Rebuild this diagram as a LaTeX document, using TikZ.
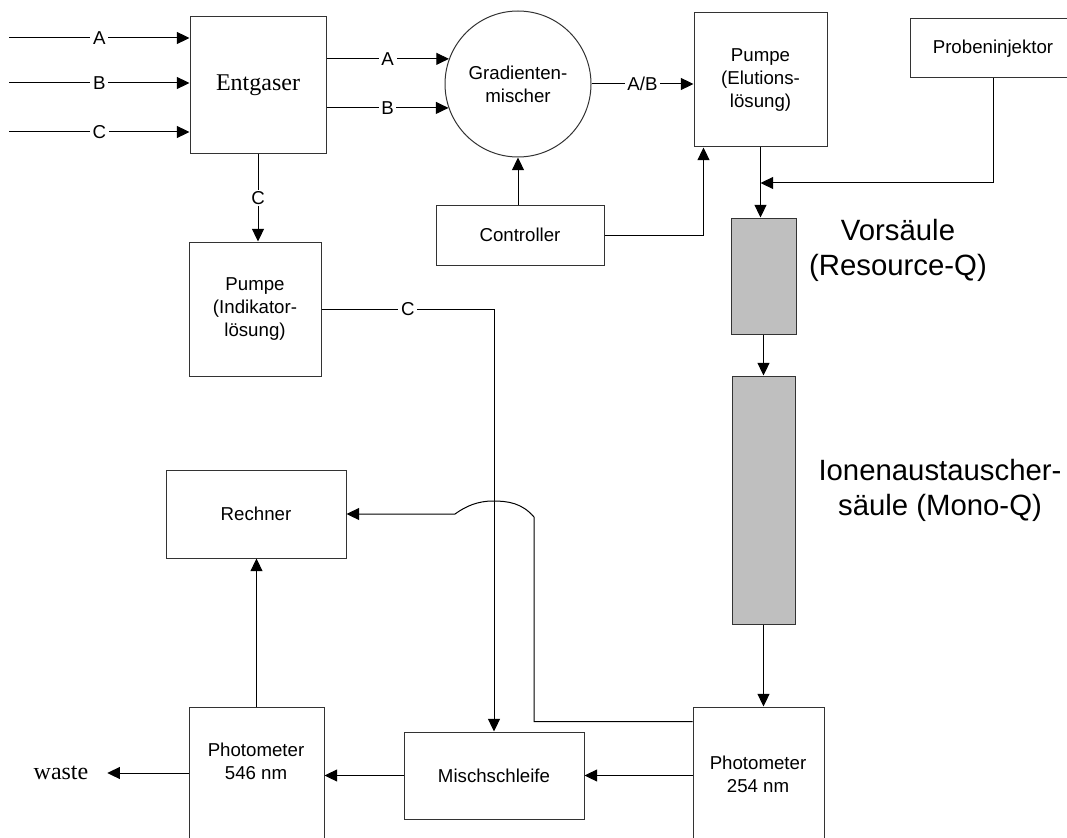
\documentclass[tikz,border=0pt]{standalone}
\usepackage{fontspec}
\setmainfont{Liberation Serif}
\setsansfont{Liberation Sans}
\usetikzlibrary{arrows.meta}

\begin{document}
\begin{tikzpicture}[x=0.75pt, y=-0.75pt,
  box/.style={draw=black!80, line width=0.75pt, align=center, inner sep=0pt, font=\sffamily\fontsize{14}{17.5}\selectfont},
  column/.style={box, fill=black!25},
  lab/.style={fill=white, inner xsep=2pt, inner ysep=1pt, font=\sffamily\fontsize{14}{17}\selectfont},
  flow/.style={draw=black, line width=0.75pt, -{Triangle[length=9.5pt,width=9pt]}},
  big/.style={align=center, font=\sffamily\fontsize{22}{26.5}\selectfont}]
\useasboundingbox (0,0) rectangle (1067,838);
\clip (0,0) rectangle (1067,838);

% Geraete
\node[box, minimum width=102pt, minimum height=102.75pt, font=\rmfamily\fontsize{18}{22}\selectfont] (entgaser) at (258,85.5) {Entgaser};
\node[box, circle, minimum size=109.5pt] (mischer) at (518,84) {Gradienten-\\mischer};
\node[box, minimum width=99.75pt, minimum height=100.5pt] (pumpeE) at (760.5,80) {Pumpe\\(Elutions-\\lösung)};
\node[box, minimum width=124.5pt, minimum height=44.25pt] (injektor) at (993,48.5) {Probeninjektor};
\node[box, minimum width=126pt, minimum height=45pt] (controller) at (520,235) {Controller};
\node[box, minimum width=99pt, minimum height=100.5pt] (pumpeI) at (255,309) {Pumpe\\(Indikator-\\lösung)};
\node[column, minimum width=48.75pt, minimum height=87pt] (vorsaeule) at (763.5,276) {};
\node[column, minimum width=47.25pt, minimum height=186pt] (ionen) at (763.5,500) {};
\node[big] (vorsaeuleText) at (898,250.5) {Vorsäule\\(Resource-Q)};
\node[big] (ionenText) at (940,490.5) {Ionenaustauscher-\\säule (Mono-Q)};
\node[box, minimum width=135pt, minimum height=66pt] (rechner) at (256,514) {Rechner};
\node[box, minimum width=135pt, minimum height=65.25pt] (mischschleife) at (494,775.5) {Mischschleife};
\node[box, minimum width=101.25pt, minimum height=122.25pt] (phot546) at (256.5,788.5) {};
\node[box, minimum width=98.25pt, minimum height=122.25pt] (phot254) at (758.5,788.5) {};
\node[box, draw=none] (phot546Text) at (256,761.5) {Photometer\\546 nm};
\node[box, draw=none] (phot254Text) at (758,774.5) {Photometer\\254 nm};
\node[font=\rmfamily\fontsize{18}{22}\selectfont, inner xsep=14pt] (waste) at (61,773) {waste};

% Leitungen
\foreach \n/\y in {A/38,B/83,C/132} {
\coordinate (in\n) at (9,\y);
\draw[flow] (in\n) -- node[lab] {\n} (in\n -| entgaser.west);}
\draw[flow] (mischer.160.8 -| entgaser.east) -- node[lab] {A} (mischer.160.8);
\draw[flow] (mischer.199.2 -| entgaser.east) -- node[lab] {B} (mischer.199.2);
\draw[flow] (mischer.east) -- node[lab] {A/B} (mischer.east -| pumpeE.west);
\draw[flow] (mischer.south |- controller.north) -- (mischer.south);
\draw[flow] (controller.east) -| ([xshift=7.5pt]pumpeE.south west);
\draw[flow] (entgaser.south) -- node[lab] {C} (entgaser.south |- pumpeI.north);
\draw[flow] (pumpeI.east) -- node[lab] {C} (pumpeI.east -| mischschleife.north) -- (mischschleife.north);
\coordinate (zulauf) at (pumpeE.south |- 0,183);
\draw[flow] (injektor.south) |- (zulauf);
\draw[flow] (pumpeE.south) -- (pumpeE.south |- vorsaeule.north);
\draw[flow] (vorsaeule.south) -- (ionen.north);
\draw[flow] (ionen.south) -- (ionen.south |- phot254.north);
\draw[flow] (phot254.west |- mischschleife.east) -- (mischschleife.east);
\draw[flow] (mischschleife.west) -- (mischschleife.west -| phot546.east);
\draw[flow] (phot546.west |- waste.east) -- (waste.east);
\draw[flow] (phot546.north) -- (phot546.north |- rechner.south);
\coordinate (hopR) at (534,517);
\coordinate (hopL) at (455,514);
\draw[flow] ([yshift=-11.25pt]phot254.north west) -| (hopR)
  .. controls (522,503) and (508,501) .. (493,501)
  .. controls (478,501) and (466,506) .. (hopL) -- (hopL -| rechner.east);
\end{tikzpicture}
\end{document}
